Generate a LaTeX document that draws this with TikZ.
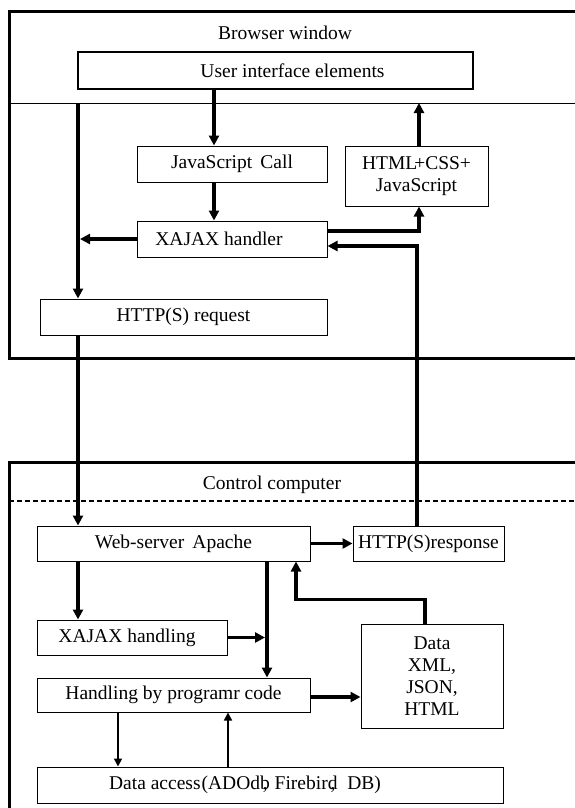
\documentclass[tikz,border=0pt]{standalone}
\usepackage{fontspec}
\setmainfont{Liberation Serif}
\usetikzlibrary{arrows.meta}
\begin{document}
\begin{tikzpicture}[x=1pt,y=-1pt,
  txt/.style={font=\fontsize{19.5}{22}\selectfont},
  box/.style={txt,draw,line width=1pt,inner sep=0pt,align=center},
  frame/.style={line width=3pt},
  ar/.style={line width=3.5pt,-{Triangle[length=10pt,width=10pt]}},
  tar/.style={line width=1.6pt,-{Triangle[length=8pt,width=8pt]}}]
\useasboundingbox (0,0) rectangle (575,808);
\clip (0,0) rectangle (575,808);
% frames
\draw[frame] (9,12) rectangle (590,358);
\draw[frame] (9,462) rectangle (590,830);
\coordinate (sepL) at (9,103); \coordinate (sepR) at (575,103);
\draw[line width=1pt] (sepL) -- (sepR);
\coordinate (dashL) at (9,501); \coordinate (dashR) at (575,501);
\draw[line width=1.5pt,dash pattern=on 5pt off 3pt] (dashL) -- (dashR);
\node[txt] (bw) at (285,33) {Browser window};
\node[txt] (cc) at (272,485) {Control computer};
% browser boxes
\node[box,line width=2.5pt,minimum width=395pt,minimum height=37pt] (ui) at (275.5,70.5) {\hspace*{34pt}User interface elements};
\node[box,minimum width=190pt,minimum height=36pt] (js) at (232,164) {JavaScript\, Call};
\node[box,minimum width=143pt,minimum height=60pt] (html) at (416.5,176) {HTML\kern-3pt+CSS+\\JavaScript};
\node[box,minimum width=190pt,minimum height=36pt] (xh) at (232,239) {XAJAX handler\hspace*{26pt}};
\node[box,minimum width=287pt,minimum height=36pt] (req) at (183.5,317) {HTTP(S) request};
% server boxes
\node[box,minimum width=273pt,minimum height=35pt] (web) at (173.5,543.5) {Web-server\, Apache};
\node[box,minimum width=151pt,minimum height=35pt] (resp) at (428.5,543.5) {HTTP(S)response};
\node[box,minimum width=190pt,minimum height=35pt] (xhd) at (132,637.5) {XAJAX handling\hspace*{10pt}};
\node[box,minimum width=142pt,minimum height=104pt] (data) at (432,676) {Data\\XML,\\JSON,\\HTML};
\node[box,minimum width=273pt,minimum height=34pt] (hd) at (173.5,695) {Handling by programr code};
\node[box,minimum width=466pt,minimum height=36pt] (da) at (270,785) {Data access\kern1pt(ADOdb\llap{,\kern2pt} Firebird\llap{,\kern2pt}\ \ DB)\hspace*{50pt}};
% x positions
\coordinate (c214) at (214,0);
\coordinate (c419) at (419,0);
\coordinate (c417) at (417,0);
\coordinate (lx) at (78,0);
\coordinate (vx) at (267,0);
\coordinate (c425) at (425,0);
\coordinate (c296) at (296,0);
\coordinate (c118) at (118,0);
\coordinate (c228) at (228,0);
% browser arrows
\draw[ar] (ui.south -| c214) -- (js.north -| c214);
\draw[ar] (js.south -| c214) -- (xh.north -| c214);
\draw[ar] (html.north -| c419) -- (sepL -| c419);
\draw[ar] (sepL -| lx) -- (req.north -| lx);
\draw[ar] (xh.west) -- ([xshift=2pt]xh.west -| lx);
\draw[ar] ([yshift=8pt]xh.east) -| (html.south -| c419);
\draw[ar] (resp.north -| c417) |- ([yshift=-7pt]xh.east);
% between
\draw[ar] (req.south -| lx) -- (web.north -| lx);
% server arrows
\draw[ar] (web.east) -- (resp.west);
\draw[ar] (web.south -| lx) -- (xhd.north -| lx);
\draw[ar] (web.south -| vx) -- (hd.north -| vx);
\draw[ar] (xhd.east) -- ([xshift=-2pt]xhd.east -| vx);
\draw[ar] (data.north -| c425) -- ++(0,-24) -| (web.south -| c296);
\draw[ar] ([yshift=-2pt]hd.east) -- ([yshift=-2pt]hd.east -| data.west);
\draw[tar] (hd.south -| c118) -- (da.north -| c118);
\draw[tar] (da.north -| c228) -- (hd.south -| c228);
\end{tikzpicture}
\end{document}
